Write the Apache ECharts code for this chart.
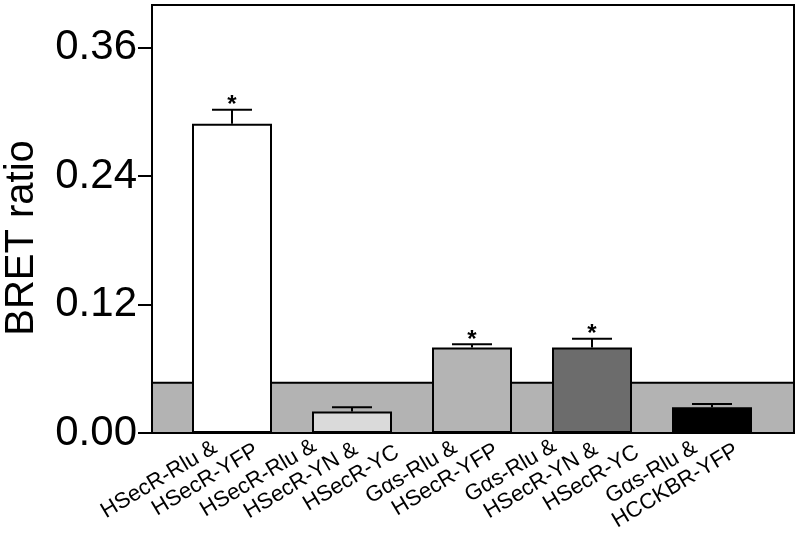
<!doctype html>
<html>
    <head>
        <meta charset="utf-8">
        <style>
            html, body { margin: 0; padding: 0; background: #fff; }
            #main { width: 800px; height: 533px; }
        </style>
    </head>
    <body>
        <div id="main"></div>
        <script src="https://cdn.jsdelivr.net/npm/echarts@6/dist/echarts.min.js"></script>
        <script>
            // each category label is split in lines like the figure
            var labelLines = [
                ['HSecR-Rlu &', 'HSecR-YFP'],
                ['HSecR-Rlu &', 'HSecR-YN &', 'HSecR-YC'],
                ['G\u03b1s-Rlu &', 'HSecR-YFP'],
                ['G\u03b1s-Rlu &', 'HSecR-YN &', 'HSecR-YC'],
                ['G\u03b1s-Rlu &', 'HCCKBR-YFP']
            ];
            var means = [0.289, 0.020, 0.080, 0.080, 0.024];
            var errors = [0.013, 0.004, 0.003, 0.008, 0.003];
            var significant = [true, false, true, true, false];
            var bandTop = 0.047;          // background (nonspecific) BRET level
            var yTicks = [0, 0.12, 0.24, 0.36];
            var yMax = 0.4;

            var barColors = ['#ffffff', '#dadada', '#b4b4b4', '#6c6c6c', '#000000'];
            var FONT = 'Liberation Sans, Arial, sans-serif';

            var categories = labelLines.map(function (l, i) { return 'c' + i; });

            // rich text: every line sits a bit further along the slant
            var STEP = 34;
            var rich = {};
            function padFor(k, n) {
                return Math.round((n - 1 - k) * STEP + (3 - n) * STEP / 2);
            }
            labelLines.forEach(function (lines) {
                lines.forEach(function (t, k) {
                    var p = padFor(k, lines.length);
                    rich['p' + p] = {
                        fontSize: 22, fontFamily: FONT, color: '#000',
                        lineHeight: 24, padding: [0, p, 0, 0]
                    };
                });
            });
            function labelText(idx) {
                var lines = labelLines[idx];
                return lines.map(function (t, k) {
                    return '{p' + padFor(k, lines.length) + '|' + t + '}';
                }).join('\n');
            }

            var chart = echarts.init(document.getElementById('main'));

            chart.setOption({
                animation: false,
                grid: [
                    // frame + y axis
                    { left: 152, right: 6, top: 5, bottom: 100, outerBoundsMode: 'none', show: true, borderColor: '#000', borderWidth: 2 },
                    // bars
                    { left: 172, width: 600, top: 5, bottom: 100, outerBoundsMode: 'none' },
                    // slanted category labels
                    { left: 205, width: 600, top: 5, bottom: 100, outerBoundsMode: 'none' }
                ],
                xAxis: [
                    { gridIndex: 0, type: 'value', min: 0, max: 1, show: false },
                    { gridIndex: 1, type: 'category', data: categories, show: false },
                    {
                        gridIndex: 2, type: 'category', data: categories, z: 10,
                        axisLine: { show: false }, axisTick: { show: false },
                        axisLabel: {
                            interval: 0, rotate: 31, margin: -3,
                            formatter: function (v, i) { return labelText(i); },
                            rich: rich
                        }
                    }
                ],
                yAxis: [
                    {
                        gridIndex: 0, type: 'value', min: 0, max: yMax,
                        name: 'BRET ratio', nameLocation: 'middle', nameGap: 110,
                        nameTextStyle: { fontSize: 40, fontFamily: FONT, color: '#000', padding: [0, 38, 0, 0] },
                        splitLine: { show: false },
                        axisLine: { show: true, lineStyle: { color: '#000', width: 2 } },
                        axisTick: { show: true, length: 14, customValues: yTicks, lineStyle: { color: '#000', width: 2 } },
                        axisLabel: {
                            customValues: yTicks, margin: 15,
                            fontSize: 42, fontFamily: FONT, color: '#000',
                            formatter: function (v) { return v.toFixed(2); }
                        }
                    },
                    { gridIndex: 1, type: 'value', min: 0, max: yMax, show: false },
                    { gridIndex: 2, type: 'value', min: 0, max: yMax, show: false }
                ],
                series: [
                    {
                        type: 'line', xAxisIndex: 0, yAxisIndex: 0, data: [], z: 1,
                        markArea: {
                            silent: true,
                            itemStyle: { color: '#b3b3b3', borderColor: '#000', borderWidth: 2 },
                            data: [[{ yAxis: 0 }, { yAxis: bandTop }]]
                        }
                    },
                    {
                        type: 'bar', xAxisIndex: 1, yAxisIndex: 1, z: 5,
                        barWidth: 80,
                        data: means.map(function (m, i) {
                            return { value: m, itemStyle: { color: barColors[i] } };
                        }),
                        itemStyle: { borderColor: '#000', borderWidth: 2 }
                    },
                    {
                        type: 'custom', xAxisIndex: 1, yAxisIndex: 1, z: 6,
                        data: means.map(function (m, i) { return [i, m, errors[i], significant[i] ? 1 : 0]; }),
                        renderItem: function (params, api) {
                            var i = api.value(0), m = api.value(1), e = api.value(2);
                            var base = api.coord([i, m]);
                            var top = api.coord([i, m + e]);
                            var half = 20;
                            var style = { stroke: '#000', lineWidth: 2 };
                            var children = [
                                { type: 'line', shape: { x1: base[0], y1: base[1], x2: top[0], y2: top[1] }, style: style },
                                { type: 'line', shape: { x1: top[0] - half, y1: top[1], x2: top[0] + half, y2: top[1] }, style: style }
                            ];
                            if (api.value(3)) {
                                children.push({
                                    type: 'text',
                                    style: {
                                        text: '*', x: top[0], y: top[1] - 4,
                                        align: 'center', verticalAlign: 'middle',
                                        fontSize: 24, fontWeight: 'bold', fontFamily: FONT, fill: '#000'
                                    }
                                });
                            }
                            return { type: 'group', children: children };
                        }
                    }
                ]
            });

            window.addEventListener('resize', function () {
                chart.resize();
            });
        </script>
    </body>
</html>
